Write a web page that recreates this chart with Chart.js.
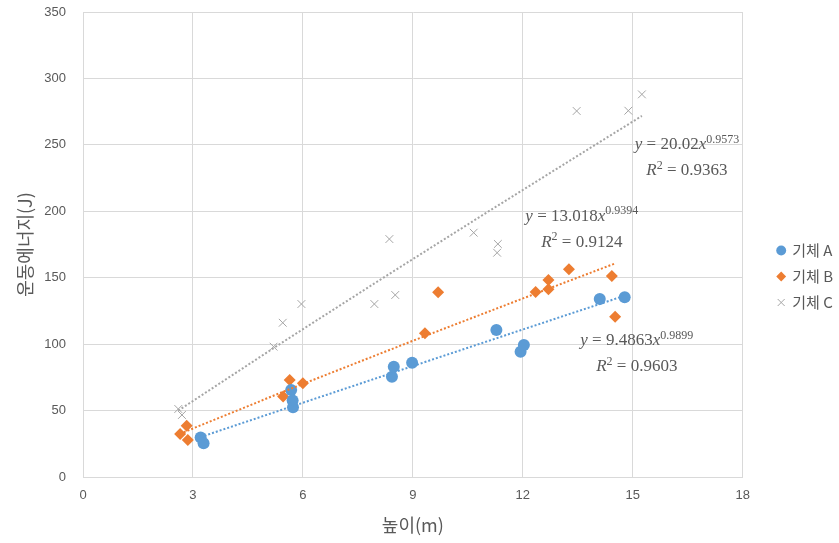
<!DOCTYPE html>
<html>
<head>
<meta charset="utf-8">
<script src="https://cdn.jsdelivr.net/npm/chart.js@4"></script>
<style>
  html, body { margin: 0; padding: 0; background: #fff; }
  #wrap { width: 839px; height: 543px; }
</style>
</head>
<body>
<div id="wrap"><canvas id="gasChart" width="839" height="543"></canvas></div>
<script>
// Values
const seriesNames = ['기체 A', '기체 B', '기체 C'];

const heightA = [3.21, 3.29, 5.68, 5.72, 5.73, 8.43, 8.48, 8.98, 11.28, 11.94, 12.03, 14.10, 14.78];
const energyA = [29.8, 25.4, 65.5, 57.5, 52.5, 75.5, 83.0, 86.0, 110.6, 94.3, 99.4, 134.0, 135.3];

const heightB = [2.65, 2.83, 2.86, 5.46, 5.64, 6.00, 9.33, 9.69, 12.35, 12.70, 12.70, 13.26, 14.43, 14.52];
const energyB = [32.4, 38.6, 27.8, 60.5, 73.0, 70.5, 108.2, 139.0, 139.3, 148.3, 141.3, 156.3, 151.3, 120.7];

const heightC = [2.60, 2.70, 5.20, 5.45, 5.96, 7.95, 8.36, 8.52, 10.66, 11.30, 11.32, 13.47, 14.88, 15.25];
const energyC = [51.2, 46.7, 98.1, 116.1, 130.2, 130.2, 179.1, 137.0, 183.9, 168.8, 175.4, 275.5, 275.7, 288.0];

// Power trendline coefficients shown on the chart (y = a * x^b)
const trendA = [9.4863, 13.018, 20.02];
const trendB = [0.9899, 0.9394, 0.9573];
const trendR2 = ['0.9603', '0.9124', '0.9363'];

const xTicks = [0, 3, 6, 9, 12, 15, 18];
const yTicks = [0, 50, 100, 150, 200, 250, 300, 350];

const colors = ['#5B9BD5', '#ED7D31', '#A5A5A5'];
const heights = [heightA, heightB, heightC];
const energies = [energyA, energyB, energyC];

function toPoints(xs, ys) {
    return xs.map((x, i) => ({ x: x, y: ys[i] }));
}

// trendline evaluated at the series' own x values
function trendPoints(idx) {
    const xs = heights[idx].slice().sort((a, b) => a - b);
    return xs.map(x => ({ x: x, y: trendA[idx] * Math.pow(x, trendB[idx]) }));
}

// where each equation label sits (data units, centre of the two lines)
const labelAt = [
    { x: 15.11, y: 93.0 },
    { x: 13.61, y: 186.6 },
    { x: 16.48, y: 240.5 }
];

const equationLabels = {
    id: 'equationLabels',
    afterDatasetsDraw(chart) {
        const ctx = chart.ctx;
        const xs = chart.scales.x, ys = chart.scales.y;
        ctx.save();
        ctx.fillStyle = '#595959';
        ctx.textBaseline = 'middle';
        labelAt.forEach((pos, i) => {
            const cx = xs.getPixelForValue(pos.x);
            const cy = ys.getPixelForValue(pos.y);
            const runs1 = [
                { t: 'y', f: 'italic 17px "Liberation Serif"', dy: 0 },
                { t: ' = ' + trendA[i], f: '17px "Liberation Serif"', dy: 0 },
                { t: 'x', f: 'italic 17px "Liberation Serif"', dy: 0 },
                { t: String(trendB[i]), f: '12px "Liberation Serif"', dy: -5 }
            ];
            const runs2 = [
                { t: 'R', f: 'italic 17px "Liberation Serif"', dy: 0 },
                { t: '2', f: '12px "Liberation Serif"', dy: -5 },
                { t: ' = ' + trendR2[i], f: '17px "Liberation Serif"', dy: 0 }
            ];
            drawRuns(ctx, runs1, cx, cy - 13);
            drawRuns(ctx, runs2, cx, cy + 13);
        });
        ctx.restore();
    }
};

function drawRuns(ctx, runs, cx, cy) {
    let total = 0;
    runs.forEach(r => { ctx.font = r.f; r.w = ctx.measureText(r.t).width; total += r.w; });
    let x = cx - total / 2;
    ctx.textAlign = 'left';
    runs.forEach(r => {
        ctx.font = r.f;
        ctx.fillText(r.t, x, cy + r.dy);
        x += r.w;
    });
}

// move the legend block a little right and down, as in the original
const legendShift = {
    id: 'legendShift',
    afterLayout(chart) {
        const lg = chart.legend;
        if (!lg) return;
        lg.left += 24;
        lg.right += 24;
        lg.top = 8;
        lg.bottom = 545;
    }
};

const pointStyles = ['circle', 'rectRot', 'crossRot'];
const pointSizes = [6, 6, 5.5];

const datasets = [];
seriesNames.forEach((name, i) => {
    datasets.push({
        type: 'scatter',
        label: name,
        data: toPoints(heights[i], energies[i]),
        pointStyle: pointStyles[i],
        pointRadius: pointSizes[i],
        pointHoverRadius: pointSizes[i],
        backgroundColor: colors[i],
        borderColor: colors[i],
        borderWidth: i === 2 ? 1 : 0,
        order: 2
    });
});
seriesNames.forEach((name, i) => {
    datasets.push({
        type: 'line',
        label: name + ' trend',
        data: trendPoints(i),
        borderColor: colors[i],
        borderWidth: 2,
        borderDash: [2, 2],
        pointRadius: 0,
        fill: false,
        tension: 0,
        order: 1
    });
});

const ctx = document.getElementById('gasChart').getContext('2d');
const gasChart = new Chart(ctx, {
    type: 'scatter',
    data: { datasets: datasets },
    options: {
        responsive: false,
        animation: false,
        layout: { padding: { left: 8, right: 20, top: 0, bottom: 6 } },
        scales: {
            x: {
                type: 'linear',
                min: 0,
                max: 18,
                afterBuildTicks: axis => { axis.ticks = xTicks.map(v => ({ value: v })); },
                afterFit: axis => { axis.height = 60; },
                grid: { color: '#D9D9D9', drawTicks: false },
                border: { color: '#D9D9D9' },
                ticks: { color: '#595959', padding: 11, font: { family: '"Liberation Sans"', size: 13 } },
                title: {
                    display: true,
                    text: '높이(m)',
                    color: '#595959',
                    padding: { top: 0, bottom: 1 },
                    font: { family: '"Noto Sans CJK KR"', size: 18 }
                }
            },
            y: {
                type: 'linear',
                min: 0,
                max: 350,
                afterBuildTicks: axis => { axis.ticks = yTicks.map(v => ({ value: v })); },
                afterFit: axis => {
                    axis.width = 75;
                    axis.paddingTop = 12;
                    axis.paddingBottom = 0;
                },
                grid: { color: '#D9D9D9', drawTicks: false },
                border: { color: '#D9D9D9' },
                ticks: { color: '#595959', padding: 17, font: { family: '"Liberation Sans"', size: 13 } },
                title: {
                    display: true,
                    text: '운동에너지(J)',
                    color: '#595959',
                    padding: { top: 6, bottom: 0 },
                    font: { family: '"Noto Sans CJK KR"', size: 18 }
                }
            }
        },
        plugins: {
            legend: {
                display: true,
                position: 'right',
                labels: {
                    usePointStyle: true,
                    boxWidth: 7,
                    boxHeight: 7,
                    padding: 11,
                    color: '#595959',
                    font: { family: '"Noto Sans CJK KR"', size: 15 },
                    filter: item => item.datasetIndex < seriesNames.length
                }
            },
            tooltip: { enabled: false }
        }
    },
    plugins: [equationLabels, legendShift]
});
</script>
</body>
</html>
